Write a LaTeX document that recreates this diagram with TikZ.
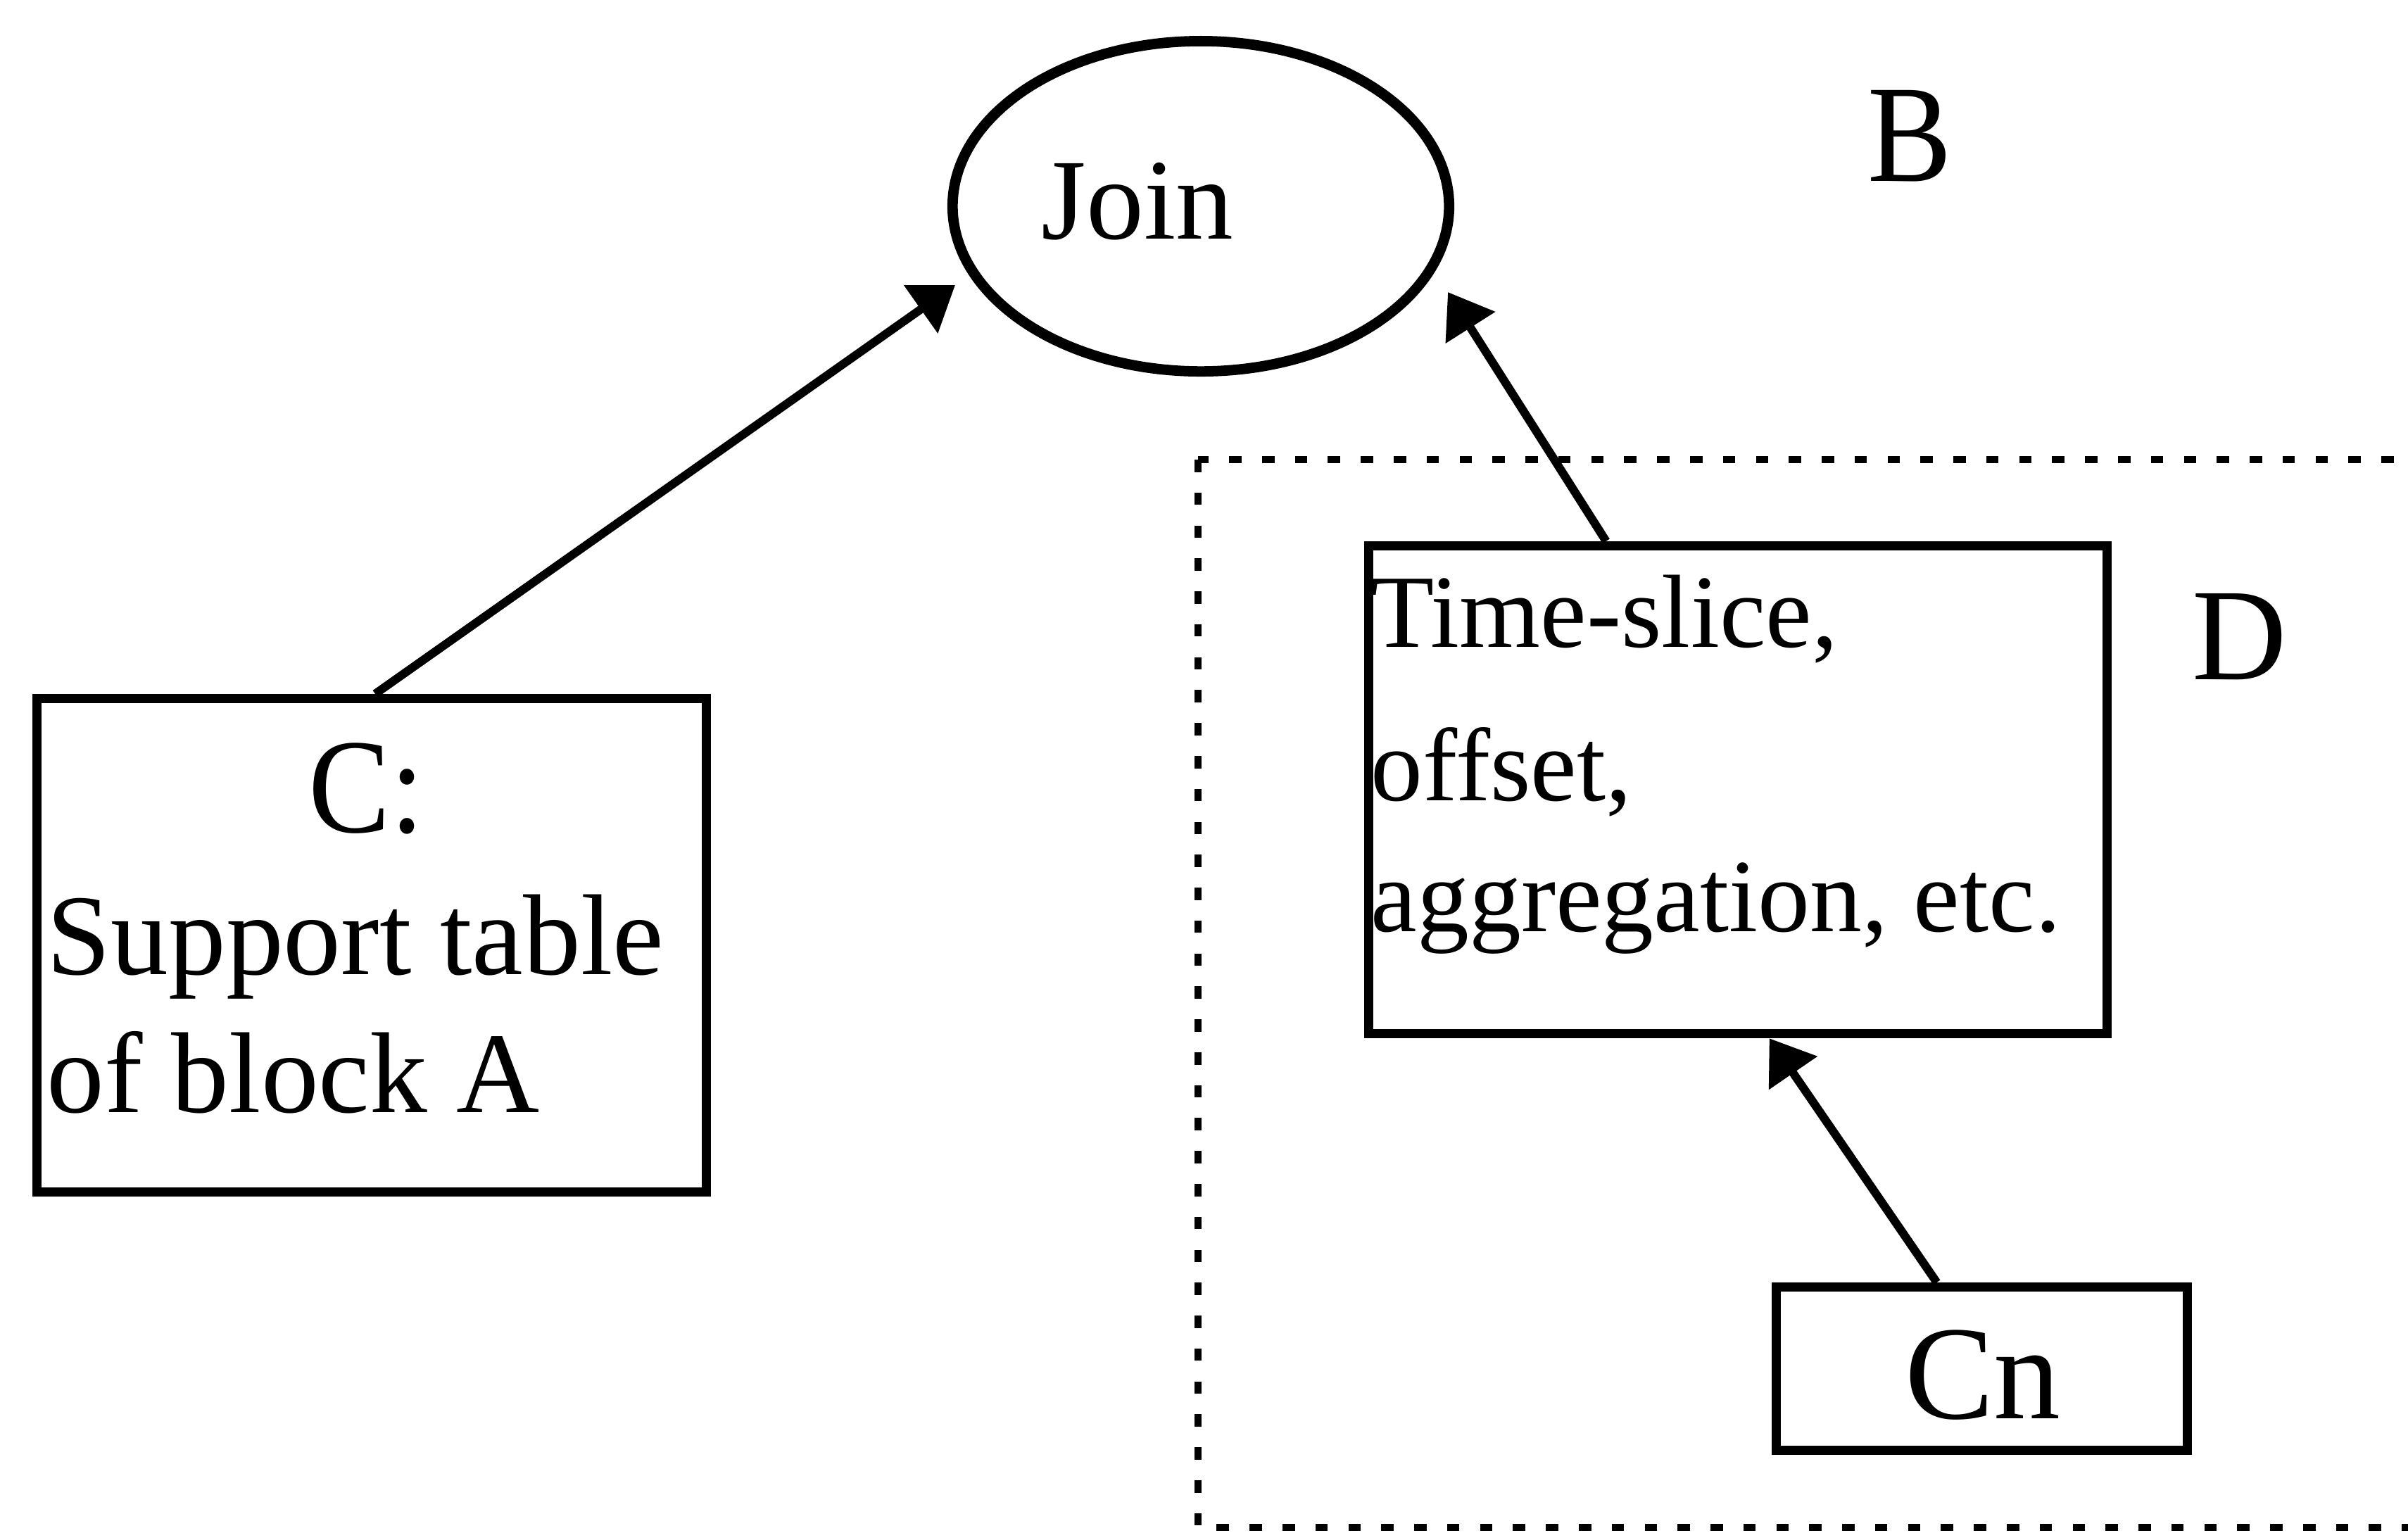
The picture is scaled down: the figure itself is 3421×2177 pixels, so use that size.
\documentclass[tikz,border=0pt]{standalone}
\usepackage{fontspec}
\usepackage{graphicx}
\setmainfont{Liberation Serif}
\usetikzlibrary{arrows.meta,calc,shapes.geometric}
\newcommand{\sz}[1]{\fontsize{#1}{1.2\dimexpr#1pt\relax}\selectfont}
\begin{document}
\begin{tikzpicture}[x=0.01cm,y=-0.01cm,
  box/.style={draw,line width=3.7pt,rectangle,inner sep=0pt},
  oval/.style={draw,line width=4.2pt,ellipse,inner sep=0pt},
  conn/.style={line width=3.4pt,-{Triangle[length=17pt,width=23pt]}},
  lbl/.style={inner sep=0pt},
  region/.style={line width=2.8pt,dash pattern=on 5pt off 8.3pt}]
\clip (0,0) rectangle (3421,2177);
\fill[white] (0,0) rectangle (3421,2177);

% dotted region around the detail part
\draw[region] (1702,653) rectangle (3560,2170);

% shapes
\node[oval,minimum width=7.05cm,minimum height=4.69cm] (join) at (1706,293) {};
\node[box,minimum width=9.51cm,minimum height=7.01cm] (cbox) at (528,1343) {};
\node[box,minimum width=10.49cm,minimum height=6.93cm] (ts) at (2469,1122) {};
\node[box,minimum width=5.84cm,minimum height=2.32cm] (cn) at (2815.5,1944.5) {};

% texts
\node[lbl,anchor=base,font=\sz{46.5}] (joinT) at (1616,339) {Join};
\node[lbl,anchor=base west,font=\sz{51}] (bT) at (2653,257) {\scalebox{1}[1.1]{B}};
\node[lbl,anchor=base west,font=\sz{53}] (dT) at (3114,965) {D};
\node[lbl,anchor=base,font=\sz{49.5}] (cT1) at (521,1182) {\scalebox{1}[1.1]{C:}};
\node[lbl,anchor=base west,font=\sz{46.5}] (cT2) at (66,1384) {Support table};
\node[lbl,anchor=base west,font=\sz{46.5}] (cT3) at (66,1580) {of block A};
\node[lbl,anchor=base west,font=\sz{42}] (tsT1) at (1947,919) {Time-slice,};
\node[lbl,anchor=base west,font=\sz{42}] (tsT2) at (1947,1137) {offset,};
\node[lbl,anchor=base west,font=\sz{42}] (tsT3) at (1947,1323) {aggregation, etc.};
\node[lbl,anchor=base,font=\sz{54}] (cnT) at (2817,2015) {Cn};

% connector end points
\coordinate (joinL) at (1357,405);
\coordinate (joinR) at (2057,415);
\coordinate (cTop) at ($(cbox.north)+(5,0)$);
\coordinate (tsTop) at ($(ts.north west)+(344,0)$);
\coordinate (tsBot) at ($(ts.south west)+(576,0)$);
\coordinate (cnTop) at ($(cn.north)+(-64,0)$);

% connectors
\draw[conn] (cTop) -- (joinL);
\draw[conn] (tsTop) -- (joinR);
\draw[conn] (cnTop) -- (tsBot);
\end{tikzpicture}
\end{document}
